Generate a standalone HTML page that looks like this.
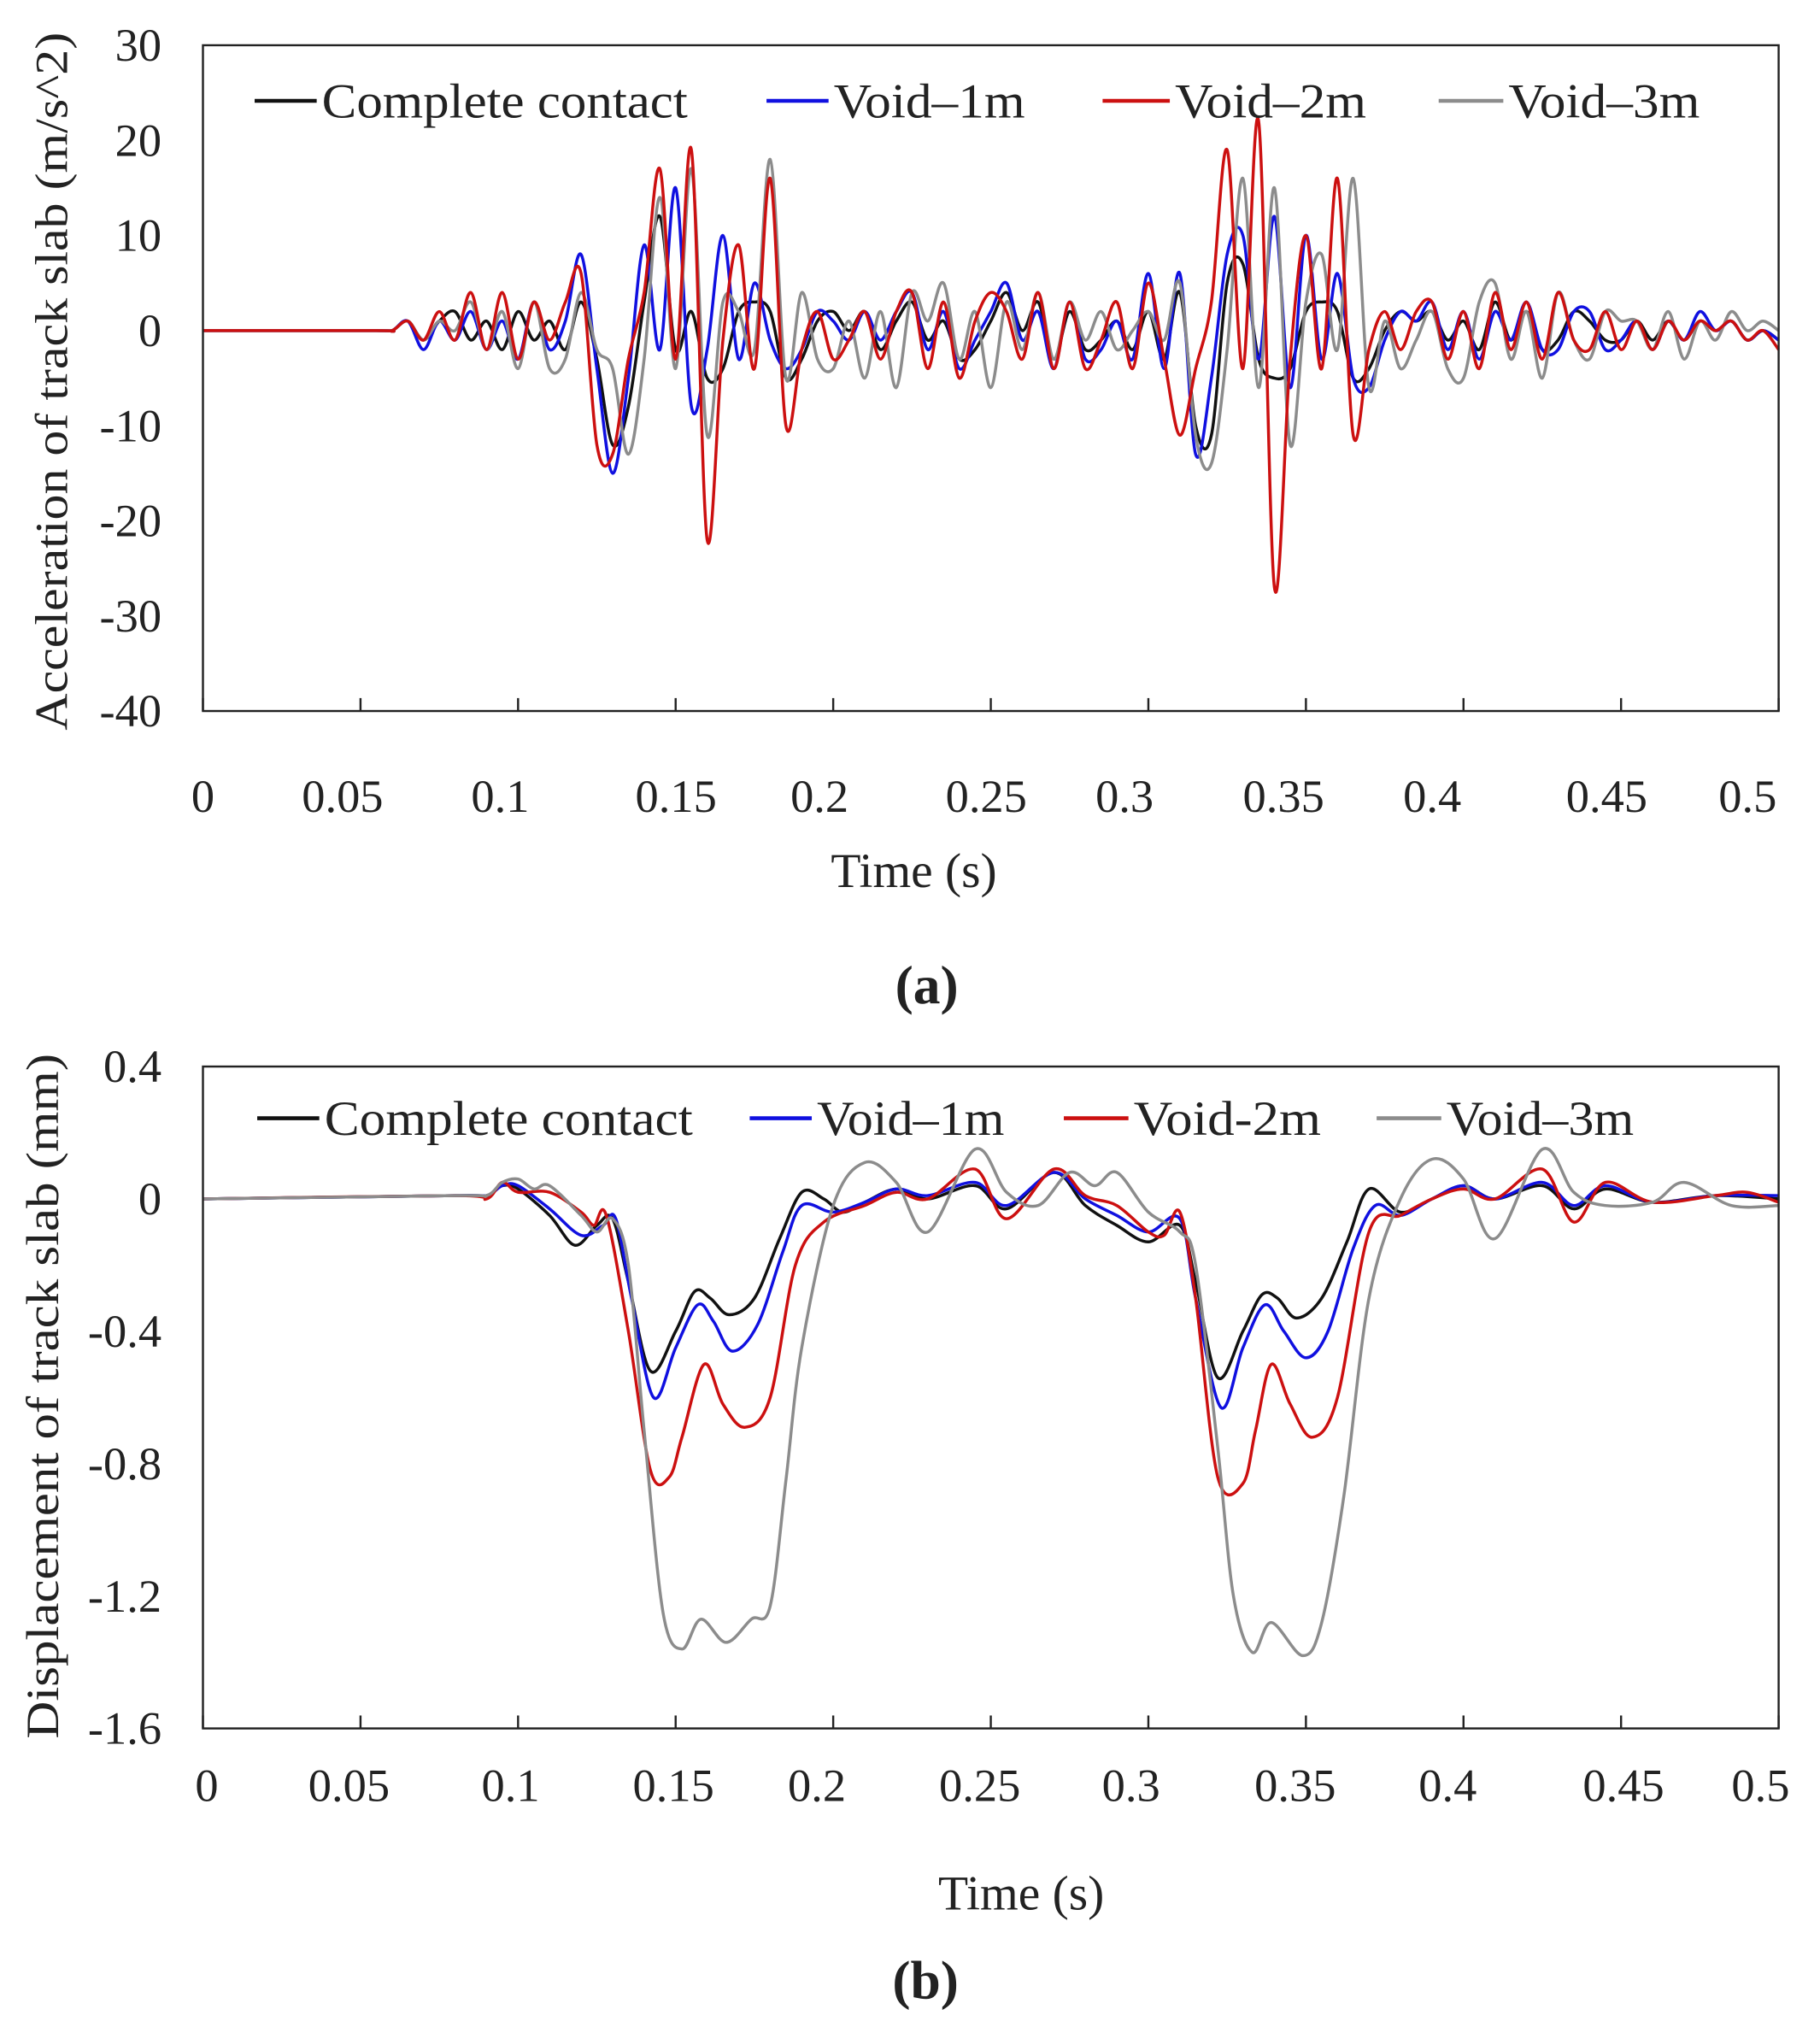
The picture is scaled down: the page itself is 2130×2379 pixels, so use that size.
<!DOCTYPE html>
<html><head><meta charset="utf-8">
<style>
html,body{margin:0;padding:0;background:#fff;}
svg{display:block;}
text{font-family:"Liberation Serif",serif;fill:#222;}
</style></head>
<body>
<svg id="fig" width="2130" height="2379" viewBox="0 0 1408 1572.6" preserveAspectRatio="none" xmlns="http://www.w3.org/2000/svg"></svg>
<script>
// ---------- Chart (a) data: acceleration ----------
const accTimes = [0,0.055,0.06,0.065,0.07,0.075,0.08,0.085,0.09,0.095,0.1,0.105,0.11,0.115,0.12,0.125,0.13,0.135,0.14,0.145,0.15,0.155,0.16,0.165,0.17,0.175,0.18,0.185,0.19,0.195,0.2,0.205,0.21,0.215,0.22,0.225,0.23,0.235,0.24,0.245,0.25,0.255,0.26,0.265,0.27,0.275,0.28,0.285,0.29,0.295,0.3,0.305,0.31,0.315,0.32,0.325,0.33,0.335,0.34,0.345,0.35,0.355,0.36,0.365,0.37,0.375,0.38,0.385,0.39,0.395,0.4,0.405,0.41,0.415,0.42,0.425,0.43,0.435,0.44,0.445,0.45,0.455,0.46,0.465,0.47,0.475,0.48,0.485,0.49,0.495,0.5];
const accComplete = [0,0,0,1,-1,1,2,-1,1,-2,2,-1,1,-2,3,-3,-12,-8,3,12,-2,2,-5,-4,2,3,2,-5,-3,1,2,0,2,-2,1,3,-1,1,-3,-2,1,4,0,3,-3,2,-2,-1,1,-2,2,-3,4,-10,-11,5,7,-3,-5,-4,2,3,2,-5,-4,0,2,1,2,-1,1,-2,3,-1,2,-2,-1,2,1,-1,-1,1,-1,1,-1,1,0,1,-1,0,-1];
const accVoid1 = [0,0,0,1,-2,1,-1,2,-2,1,-3,3,-2,1,8,-4,-15,-5,9,-2,15,-8,-2,10,-3,5,-1,-4,-2,2,1,-1,2,-1,2,4,-2,2,-4,-1,2,5,-1,2,-4,3,-3,-2,1,-3,6,-4,6,-13,-5,8,10,-3,12,-6,10,-3,6,-5,-6,-1,2,1,3,-2,2,-3,2,-1,3,-2,-2,2,2,-2,-1,1,-2,1,-1,2,0,1,-1,0,-1];
const accVoid2 = [0,0,0,1,-1,2,-1,4,-2,4,-3,3,-1,3,6,-12,-13,-3,4,17,-3,19,-22,-1,9,-4,16,-10,-2,2,-3,-1,2,-3,2,4,-4,3,-5,1,4,2,-3,4,-4,3,-4,-1,3,-4,5,-3,-11,-4,3,19,-4,22,-27,-3,10,-4,16,-11,-2,2,-2,2,3,-3,2,-4,4,-2,3,-3,4,-1,-2,2,-2,1,-2,1,-1,1,0,1,-1,0,-2];
const accVoid3 = [0,0,0,1,-1,1,0,3,-2,2,-4,3,-4,-3,4,-2,-4,-13,-3,14,-4,17,-11,3,2,-2,18,-5,4,-3,-4,1,-5,2,-6,4,1,5,-3,2,-6,3,-2,4,-3,3,-1,2,-2,0,2,-1,5,-11,-14,-2,16,-6,15,-12,3,8,-2,16,-6,1,-4,-1,2,-4,-5,3,5,-3,2,-5,4,-1,-3,2,1,1,-2,2,-3,1,-1,2,0,1,0];
const accTicksY = [30,20,10,0,-10,-20,-30,-40];
const accTickLabelsX = ["0","0.05","0.1","0.15","0.2","0.25","0.3","0.35","0.4","0.45","0.5"];
const accTickValuesX = [0,0.05,0.1,0.15,0.2,0.25,0.3,0.35,0.4,0.45,0.5];

// ---------- Chart (b) data: displacement ----------
const dispCompleteT = [0,0.08,0.09,0.095,0.1,0.11,0.118,0.125,0.13,0.135,0.142,0.15,0.156,0.161,0.167,0.175,0.183,0.19,0.197,0.203,0.21,0.22,0.23,0.245,0.255,0.27,0.28,0.29,0.3,0.31,0.315,0.322,0.33,0.336,0.341,0.347,0.355,0.363,0.37,0.38,0.39,0.4,0.41,0.425,0.435,0.445,0.46,0.48,0.5];
const dispCompleteV = [0,0.01,0.01,0.04,0.03,-0.05,-0.14,-0.08,-0.06,-0.25,-0.52,-0.4,-0.28,-0.3,-0.35,-0.3,-0.12,0.02,0,-0.04,-0.01,0.03,0,0.04,-0.03,0.08,-0.02,-0.08,-0.13,-0.08,-0.25,-0.54,-0.4,-0.29,-0.3,-0.36,-0.3,-0.13,0.03,-0.04,0,0.04,0,0.04,-0.03,0.03,-0.01,0.01,0];
const dispVoid1T = [0,0.08,0.09,0.095,0.1,0.11,0.12,0.127,0.131,0.136,0.143,0.15,0.157,0.162,0.168,0.176,0.184,0.19,0.2,0.21,0.22,0.23,0.245,0.255,0.27,0.28,0.29,0.3,0.31,0.315,0.323,0.33,0.337,0.343,0.35,0.357,0.365,0.372,0.38,0.39,0.4,0.41,0.425,0.435,0.445,0.46,0.48,0.5];
const dispVoid1V = [0,0.01,0.01,0.04,0.04,-0.03,-0.11,-0.08,-0.06,-0.3,-0.6,-0.45,-0.32,-0.37,-0.46,-0.38,-0.16,-0.02,-0.04,-0.01,0.03,0.01,0.05,-0.02,0.08,0,-0.05,-0.1,-0.06,-0.3,-0.63,-0.45,-0.32,-0.4,-0.48,-0.4,-0.15,-0.02,-0.05,0,0.04,0,0.05,-0.02,0.04,-0.01,0.01,0.01];
const dispVoid2T = [0,0.08,0.09,0.095,0.1,0.11,0.12,0.124,0.128,0.135,0.142,0.148,0.152,0.159,0.165,0.172,0.18,0.188,0.197,0.21,0.22,0.23,0.245,0.255,0.27,0.28,0.29,0.3,0.305,0.31,0.315,0.322,0.33,0.334,0.339,0.345,0.352,0.36,0.37,0.38,0.39,0.4,0.41,0.425,0.435,0.445,0.46,0.48,0.49,0.5];
const dispVoid2V = [0,0.01,0,0.05,0.02,0.02,-0.04,-0.08,-0.05,-0.4,-0.82,-0.84,-0.72,-0.5,-0.62,-0.69,-0.6,-0.2,-0.07,-0.02,0.02,0,0.09,-0.06,0.09,0.01,-0.02,-0.1,-0.11,-0.04,-0.3,-0.84,-0.86,-0.7,-0.5,-0.62,-0.72,-0.6,-0.1,-0.05,0,0.03,0,0.09,-0.07,0.05,-0.01,0.01,0.02,-0.01];
const dispVoid3T = [0,0.08,0.09,0.095,0.1,0.105,0.11,0.12,0.125,0.13,0.135,0.14,0.146,0.152,0.158,0.166,0.174,0.18,0.185,0.19,0.2,0.21,0.22,0.23,0.245,0.255,0.265,0.275,0.283,0.29,0.3,0.31,0.315,0.322,0.327,0.333,0.339,0.349,0.355,0.362,0.37,0.38,0.39,0.4,0.41,0.425,0.435,0.445,0.46,0.47,0.485,0.5];
const dispVoid3V = [0,0.01,0.01,0.05,0.06,0.03,0.04,-0.05,-0.1,-0.06,-0.2,-0.7,-1.25,-1.36,-1.27,-1.34,-1.27,-1.23,-0.85,-0.45,-0.02,0.11,0.05,-0.1,0.15,0.02,-0.02,0.08,0.04,0.08,-0.04,-0.1,-0.2,-0.75,-1.2,-1.37,-1.28,-1.38,-1.28,-0.9,-0.3,0,0.12,0.06,-0.12,0.15,0.02,-0.02,-0.01,0.05,-0.02,-0.02];
const dispTicksY = [0.4,0,-0.4,-0.8,-1.2,-1.6];
const dispTickLabelsY = ["0.4","0","-0.4","-0.8","-1.2","-1.6"];
const dispTickLabelsX = ["0","0.05","0.1","0.15","0.2","0.25","0.3","0.35","0.4","0.45","0.5"];
const dispTickValuesX = [0,0.05,0.1,0.15,0.2,0.25,0.3,0.35,0.4,0.45,0.5];

const NS = "http://www.w3.org/2000/svg";
const svg = document.getElementById('fig');
function mk(tag, attrs, parent){
  const e = document.createElementNS(NS, tag);
  for (const k in attrs) e.setAttribute(k, attrs[k]);
  (parent || svg).appendChild(e);
  return e;
}
function smoothPath(pts){
  let d = "M" + pts[0][0].toFixed(2) + "," + pts[0][1].toFixed(2);
  for (let i = 0; i < pts.length - 1; i++){
    const p0 = pts[Math.max(0,i-1)], p1 = pts[i], p2 = pts[i+1], p3 = pts[Math.min(pts.length-1,i+2)];
    const c1x = p1[0] + (p2[0]-p0[0])/6, c1y = p1[1] + (p2[1]-p0[1])/6;
    const c2x = p2[0] - (p3[0]-p1[0])/6, c2y = p2[1] - (p3[1]-p1[1])/6;
    d += " C" + c1x.toFixed(2) + "," + c1y.toFixed(2) + " " + c2x.toFixed(2) + "," + c2y.toFixed(2) + " " + p2[0].toFixed(2) + "," + p2[1].toFixed(2);
  }
  return d;
}
const colors = {black:"#111111", blue:"#1010e0", red:"#cc1010", gray:"#8c8c8c"};

function drawChart(cfg){
  const g = mk('g', {});
  
  
  const X = t => cfg.left + (t - 0) / 0.5 * (cfg.right - cfg.left);
  const Y = v => cfg.top + (cfg.yMax - v) / (cfg.yMax - cfg.yMin) * (cfg.bottom - cfg.top);
  const sg = mk('g', {}, g);
  
  
  cfg.series.forEach(s => {
    const pts = s.t.map((t, i) => [X(t), Y(s.v[i])]);
    const p = mk('path', {d: smoothPath(pts), fill:"none", stroke: s.color, "stroke-width": 2.3, "stroke-linejoin":"round"}, sg);
    
    
  });
  const fr = mk('rect', {x: cfg.left, y: cfg.top, width: cfg.right-cfg.left, height: cfg.bottom-cfg.top, fill:"none", stroke:"#222", "stroke-width":1.6}, g);
  
  
  cfg.xTickValues.forEach((t, i) => {
    const tk = mk('line', {x1: X(t), x2: X(t), y1: cfg.bottom, y2: cfg.bottom - 10, stroke:"#222", "stroke-width":1.6}, g);
    
    
    const lb = mk('text', {x: cfg.xLabelPos[i], y: cfg.xLabelY, "font-size": 36, "text-anchor":"middle"}, g);
    lb.textContent = cfg.xTickLabels[i];
    
    
  });
  cfg.yTicks.forEach((v, i) => {
    const lb = mk('text', {x: cfg.left - 32, y: Y(v) + 12, "font-size": 36, "text-anchor":"end"}, g);
    lb.textContent = cfg.yTickLabels[i];
    
    
  });
  const xt = mk('text', {x: cfg.xTitleX, y: cfg.xTitleY, "font-size": 38, "text-anchor":"middle"}, g);
  xt.textContent = "Time (s)";
  
  
  const yt = mk('text', {x: 0, y: 0, "font-size": 36, "text-anchor":"middle", "textLength": cfg.yTitleLen, "lengthAdjust":"spacingAndGlyphs", transform: "translate(" + cfg.yTitleX + "," + cfg.yTitleY + ") rotate(-90)"}, g);
  yt.textContent = cfg.yTitle;
  
  
  cfg.legend.forEach(l => {
    const le = mk('g', {}, g);
    
    
    mk('line', {x1: l.x1, x2: l.x2, y1: cfg.legendY, y2: cfg.legendY, stroke: l.color, "stroke-width": 3}, le);
    const tx = mk('text', {x: l.x2 + 4, y: cfg.legendY + 13, "font-size": 38, "textLength": l.len, "lengthAdjust":"spacingAndGlyphs"}, le);
    tx.textContent = l.label;
  });
  const pl = mk('text', {x: cfg.panelX, y: cfg.panelY, "font-size": 42, "font-weight":"bold", "text-anchor":"middle"}, g);
  pl.textContent = cfg.panel;
  
  
}

drawChart({
  name: 'acceleration-chart', left:157, right:1376, top:35, bottom:550, yMax:30, yMin:-40,
  series:[
    {key:'complete-contact', t:accTimes, v:accComplete, color:colors.black},
    {key:'void-1m', t:accTimes, v:accVoid1, color:colors.blue},
    {key:'void-3m', t:accTimes, v:accVoid3, color:colors.gray},
    {key:'void-2m', t:accTimes, v:accVoid2, color:colors.red}
  ],
  xTickValues: accTickValuesX, xTickLabels: accTickLabelsX,
  xLabelPos:[157,265,387,523,634,763,870,993,1108,1243,1352], xLabelY:628,
  yTicks: accTicksY, yTickLabels: accTicksY.map(String),
  xTitleX:707, xTitleY:686, yTitleX:52, yTitleY:295, yTitleLen:540,
  yTitle:"Acceleration  of track slab (m/s^2)",
  legendY:78,
  legend:[
    {x1:197,x2:245,color:colors.black,label:"Complete contact",len:283},
    {x1:593,x2:641,color:colors.blue,label:"Void–1m",len:148},
    {x1:853,x2:905,color:colors.red,label:"Void–2m",len:148},
    {x1:1113,x2:1163,color:colors.gray,label:"Void–3m",len:148}
  ],
  panel:"(a)", panelX:717, panelY:776
});

drawChart({
  name: 'displacement-chart', left:157, right:1376, top:825, bottom:1337, yMax:0.4, yMin:-1.6,
  series:[
    {key:'complete-contact', t:dispCompleteT, v:dispCompleteV, color:colors.black},
    {key:'void-1m', t:dispVoid1T, v:dispVoid1V, color:colors.blue},
    {key:'void-2m', t:dispVoid2T, v:dispVoid2V, color:colors.red},
    {key:'void-3m', t:dispVoid3T, v:dispVoid3V, color:colors.gray}
  ],
  xTickValues: dispTickValuesX, xTickLabels: dispTickLabelsX,
  xLabelPos:[160,270,395,521,632,758,875,1002,1120,1256,1362], xLabelY:1393,
  yTicks: dispTicksY, yTickLabels: dispTickLabelsY,
  xTitleX:790, xTitleY:1477, yTitleX:45, yTitleY:1080, yTitleLen:530,
  yTitle:"Displacement  of track slab (mm)",
  legendY:865,
  legend:[
    {x1:199,x2:247,color:colors.black,label:"Complete contact",len:285},
    {x1:580,x2:628,color:colors.blue,label:"Void–1m",len:145},
    {x1:823,x2:873,color:colors.red,label:"Void-2m",len:145},
    {x1:1065,x2:1115,color:colors.gray,label:"Void–3m",len:145}
  ],
  panel:"(b)", panelX:716, panelY:1546
});
</script>
</body></html>
